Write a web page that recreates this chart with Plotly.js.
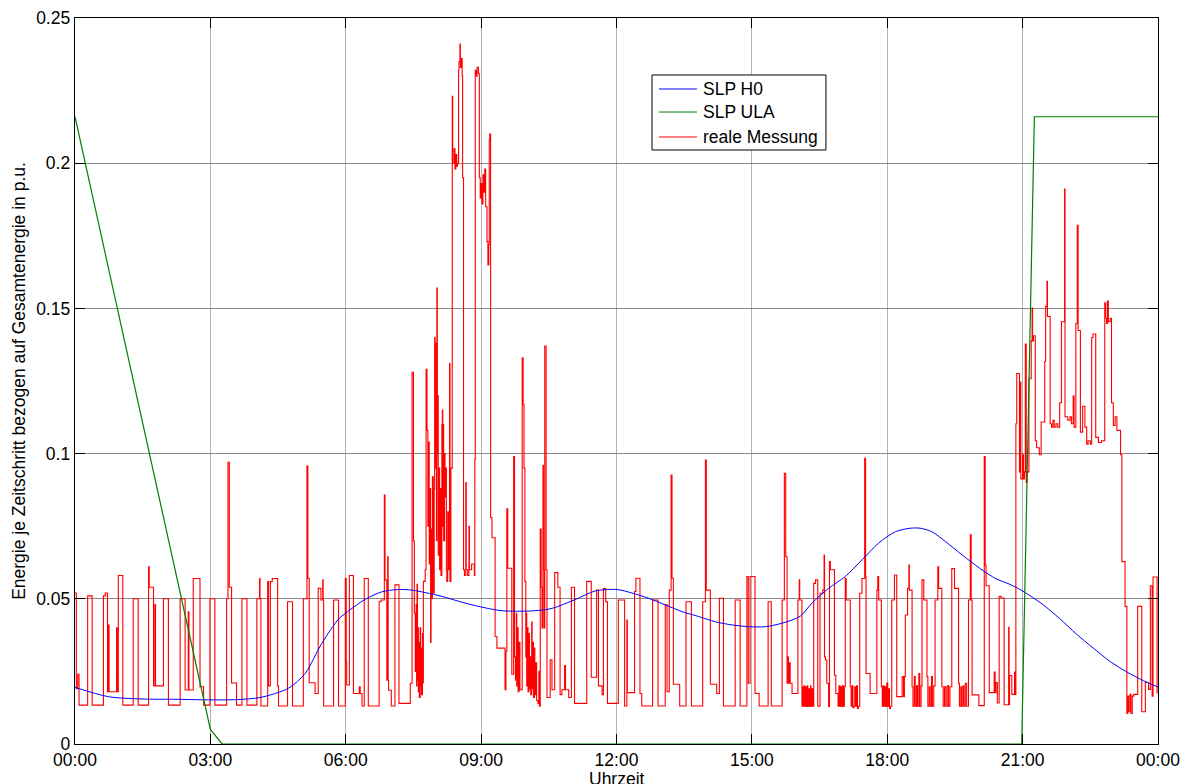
<!DOCTYPE html>
<html><head><meta charset="utf-8">
<script src="https://cdn.plot.ly/plotly-3.0.1.min.js"></script>
<style>html,body{margin:0;padding:0;background:#fff}</style>
</head><body>
<div id="chart" style="width:1186px;height:784px"></div>
<script>
// ---- tick labels / categories ----
const tickHours = [0, 3, 6, 9, 12, 15, 18, 21, 24];
const tickLabels = ['00:00', '03:00', '06:00', '09:00', '12:00', '15:00', '18:00', '21:00', '00:00'];
const yTickVals = [0, 0.05, 0.1, 0.15, 0.2, 0.25];
const yTickLabels = ['0', '0.05', '0.1', '0.15', '0.2', '0.25'];
const seriesNames = ['SLP H0', 'SLP ULA', 'reale Messung'];
const seriesColors = ['#0000ff', '#008000', '#ff0000'];
const xTitle = 'Uhrzeit';
const yTitle = 'Energie je Zeitschritt bezogen auf Gesamtenergie in p.u.';

// ---- SLP H0 (hours, p.u.) ----
const h0Hours = [0, 0.74, 1.48, 2.22, 2.96, 3.6, 4.1, 4.73, 5.1, 5.47, 5.84, 6.0, 6.43, 6.8, 7.17, 7.46, 8.09, 8.72, 9.46, 10.2, 10.57, 11.08, 11.53, 12.01, 12.34, 12.71, 13.08, 13.45, 13.82, 14.19, 14.56, 14.93, 15.3, 15.67, 16.07, 16.33, 16.7, 17.07, 17.44, 17.81, 18.18, 18.51, 18.73, 18.99, 19.29, 19.66, 20.06, 20.41, 20.7, 21.0, 21.45, 21.82, 22.19, 22.56, 22.94, 23.31, 23.68, 24];
const h0Values = [0.0195, 0.0163, 0.0155, 0.0154, 0.0152, 0.0153, 0.016, 0.0192, 0.0243, 0.0347, 0.0430, 0.0451, 0.0498, 0.0524, 0.0532, 0.0530, 0.0510, 0.0482, 0.0459, 0.0459, 0.0467, 0.0497, 0.0527, 0.0532, 0.052, 0.0502, 0.0479, 0.0456, 0.0439, 0.0421, 0.041, 0.0404, 0.0404, 0.0416, 0.0440, 0.0485, 0.0536, 0.0577, 0.0634, 0.0692, 0.0731, 0.0743, 0.0743, 0.0731, 0.0697, 0.0651, 0.0604, 0.0569, 0.0551, 0.0527, 0.048, 0.0432, 0.0379, 0.0331, 0.0284, 0.0248, 0.0218, 0.0196];

// ---- SLP ULA ----
const ulaHours = [0, 3.0, 3.26, 20.98, 21.26, 24];
const ulaValues = [0.216, 0.005, 0, 0, 0.216, 0.216];

// ---- reale Messung: [hour, value] steps ----
const redNight = [[0,0.052],[0.03,0.019],[0.06,0.024],[0.09,0.0134],[0.28,0.051],[0.38,0.0134],[0.63,0.051],[0.67,0.052],[0.72,0.018],[0.74,0.041],[0.755,0.018],[0.92,0.040],[0.935,0.018],[0.96,0.058],[1.06,0.0134],[1.29,0.050],[1.40,0.0134],[1.63,0.061],[1.645,0.054],[1.74,0.020],[1.77,0.048],[1.785,0.020],[1.96,0.050],[2.07,0.0134],[2.33,0.050],[2.44,0.0186],[2.51,0.0455],[2.525,0.0186],[2.62,0.057],[2.77,0.0197],[2.85,0.0134],[2.99,0.050],[3.10,0.0134],[3.36,0.050],[3.39,0.097],[3.42,0.054],[3.47,0.021],[3.58,0.0134],[3.70,0.050],[3.81,0.0134]];
const redMorning = [[4.03,0.050],[4.09,0.057],[4.10,0.050],[4.12,0.0131],[4.27,0.0559],[4.29,0.020],[4.33,0.0559],[4.37,0.057],[4.49,0.020],[4.51,0.0131],[4.71,0.049],[4.82,0.0131],[5.06,0.050],[5.14,0.0957],[5.16,0.057],[5.19,0.0211],[5.32,0.0174],[5.39,0.0536],[5.45,0.0496],[5.49,0.0565],[5.50,0.0496],[5.51,0.0131],[5.73,0.0496],[5.84,0.0131],[5.99,0.057],[6.01,0.0283],[6.02,0.0203],[6.08,0.058],[6.17,0.0174],[6.30,0.0197],[6.32,0.0174],[6.36,0.0131],[6.41,0.057],[6.50,0.0131],[6.74,0.049],[6.78,0.0496],[6.855,0.0857],[6.87,0.0565],[6.91,0.022],[6.93,0.0645],[6.94,0.022],[6.95,0.0185],[7.01,0.0131],[7.09,0.0548],[7.18,0.014]];
const redRamp = [[7.43,0.0209],[7.47,0.128],[7.50,0.070],[7.52,0.045],[7.54,0.025],[7.56,0.048],[7.57,0.020],[7.58,0.055],[7.59,0.022],[7.60,0.040],[7.61,0.018],[7.62,0.035],[7.63,0.016],[7.65,0.040],[7.66,0.020],[7.67,0.033],[7.68,0.017],[7.70,0.038],[7.71,0.021],[7.72,0.056],[7.76,0.060],[7.78,0.129],[7.80,0.108],[7.82,0.075],[7.83,0.104],[7.85,0.062],[7.86,0.088],[7.88,0.035],[7.89,0.074],[7.91,0.050],[7.92,0.092],[7.94,0.052],[7.96,0.088],[7.97,0.140],[7.98,0.095],[8.00,0.138],[8.01,0.070],[8.02,0.157],[8.03,0.100],[8.04,0.120],[8.05,0.065],[8.07,0.095],[8.08,0.060],[8.10,0.088],[8.11,0.058],[8.13,0.110],[8.14,0.115],[8.15,0.075],[8.16,0.110],[8.17,0.070],[8.19,0.100],[8.20,0.085],[8.22,0.095],[8.23,0.060],[8.24,0.056],[8.26,0.080],[8.28,0.060],[8.30,0.131],[8.31,0.056],[8.33,0.095]];
const redPeak = [[8.36,0.223],[8.37,0.200],[8.40,0.205],[8.42,0.198],[8.44,0.203],[8.46,0.199],[8.48,0.200],[8.50,0.232],[8.51,0.235],[8.53,0.241],[8.54,0.233],[8.56,0.236],[8.58,0.230],[8.59,0.195],[8.61,0.060],[8.63,0.058],[8.66,0.090],[8.67,0.060],[8.70,0.058],[8.73,0.075],[8.74,0.060],[8.79,0.062],[8.85,0.058],[8.86,0.098],[8.87,0.232],[8.89,0.230],[8.91,0.233],[8.94,0.231],[8.96,0.195],[8.98,0.188],[9.00,0.193],[9.02,0.186],[9.04,0.196],[9.06,0.190],[9.08,0.198],[9.10,0.185],[9.13,0.173],[9.15,0.165],[9.17,0.172],[9.18,0.208],[9.19,0.210],[9.21,0.078]];
const redLateMorning = [[9.24,0.071],[9.31,0.037],[9.35,0.033],[9.53,0.0187],[9.55,0.032],[9.57,0.081],[9.59,0.0605],[9.66,0.0605],[9.68,0.024],[9.72,0.099],[9.74,0.030],[9.76,0.022],[9.78,0.045],[9.79,0.020],[9.81,0.040],[9.82,0.018],[9.84,0.035],[9.86,0.0187],[9.91,0.133],[9.93,0.117],[9.95,0.095],[9.97,0.056],[9.99,0.030],[10.00,0.045],[10.01,0.020],[10.03,0.040],[10.04,0.018],[10.06,0.038],[10.07,0.019],[10.09,0.030],[10.10,0.017],[10.12,0.042],[10.13,0.019],[10.15,0.035],[10.16,0.016],[10.18,0.033],[10.19,0.017],[10.21,0.028],[10.23,0.015],[10.26,0.014],[10.28,0.025],[10.29,0.013],[10.31,0.074],[10.33,0.054],[10.35,0.040],[10.37,0.096],[10.38,0.060],[10.40,0.040],[10.41,0.137],[10.44,0.060],[10.46,0.016],[10.53,0.029],[10.57,0.0187],[10.63,0.059],[10.70,0.054],[10.75,0.017],[10.79,0.0187],[10.85,0.027],[10.87,0.0187],[10.94,0.016],[11.00,0.054],[11.07,0.014],[11.34,0.056],[11.44,0.023],[11.56,0.053],[11.60,0.020],[11.68,0.017],[11.71,0.0535],[11.76,0.049],[11.80,0.014]];
const redAfternoon = [[12.04,0.0496],[12.18,0.0131],[12.23,0.0427],[12.24,0.0177],[12.40,0.0525],[12.43,0.0571],[12.52,0.0174],[12.56,0.0131],[12.80,0.0496],[12.92,0.0131],[13.08,0.0479],[13.12,0.018],[13.17,0.053],[13.21,0.0926],[13.23,0.0571],[13.26,0.0206],[13.40,0.0131],[13.54,0.049],[13.66,0.0131],[13.91,0.049],[13.97,0.0978],[13.99,0.053],[14.08,0.0206],[14.22,0.0174],[14.28,0.0502],[14.37,0.0131],[14.63,0.0496],[14.74,0.0131],[14.89,0.0577],[14.92,0.0209],[14.96,0.0577],[15.07,0.0174],[15.16,0.0131],[15.36,0.049],[15.43,0.0131],[15.67,0.0496],[15.72,0.0932],[15.75,0.0645],[15.78,0.0209],[15.80,0.030],[15.81,0.0209],[15.83,0.028],[15.85,0.0209],[15.89,0.0174]];
const redEvening = [[16.02,0.0496],[16.05,0.0565],[16.06,0.0496],[16.11,0.013],[16.13,0.0197],[16.14,0.013],[16.16,0.020],[16.17,0.013],[16.19,0.0197],[16.21,0.0129],[16.23,0.020],[16.24,0.013],[16.26,0.019],[16.28,0.0129],[16.30,0.020],[16.31,0.013],[16.33,0.019],[16.35,0.013],[16.37,0.0553],[16.41,0.0565],[16.46,0.013],[16.51,0.0519],[16.57,0.053],[16.60,0.0651],[16.61,0.030],[16.63,0.0289],[16.66,0.0209],[16.70,0.0129],[16.72,0.0628],[16.74,0.060],[16.83,0.0237],[16.86,0.0174],[16.91,0.013],[16.93,0.020],[16.95,0.013],[16.97,0.0197],[16.99,0.0129],[17.01,0.020],[17.03,0.013],[17.05,0.0197],[17.07,0.0571],[17.09,0.0496],[17.18,0.0197],[17.20,0.013],[17.22,0.020],[17.24,0.0125],[17.26,0.013],[17.28,0.0197],[17.30,0.013],[17.32,0.020],[17.34,0.0122],[17.36,0.013],[17.39,0.0519],[17.44,0.057],[17.50,0.0984],[17.52,0.0577],[17.53,0.0243],[17.62,0.0174],[17.77,0.053],[17.79,0.0577],[17.81,0.0496],[17.87,0.0197],[17.89,0.013],[17.91,0.020],[17.93,0.013],[17.95,0.0197],[17.97,0.0129],[17.99,0.021],[18.01,0.013],[18.03,0.019],[18.05,0.0122],[18.07,0.013],[18.10,0.0496],[18.16,0.0582],[18.21,0.0163],[18.33,0.0232],[18.36,0.0163],[18.38,0.0232],[18.40,0.0444],[18.45,0.0536],[18.48,0.0616],[18.49,0.053],[18.55,0.0197],[18.57,0.013],[18.60,0.0232],[18.62,0.013],[18.65,0.020],[18.67,0.013],[18.70,0.0243],[18.72,0.0129],[18.75,0.020],[18.77,0.0565],[18.81,0.0496],[18.88,0.0232],[18.90,0.013],[18.93,0.0197],[18.95,0.013],[18.98,0.0232],[19.00,0.013],[19.03,0.020],[19.06,0.0496],[19.12,0.061],[19.14,0.0536],[19.21,0.0197],[19.24,0.013],[19.27,0.0197],[19.30,0.013],[19.33,0.020],[19.36,0.013],[19.39,0.0197],[19.43,0.0604],[19.49,0.0536],[19.58,0.0209],[19.60,0.013],[19.63,0.0197],[19.65,0.013],[19.68,0.020],[19.70,0.013],[19.73,0.0209],[19.76,0.013],[19.80,0.0496],[19.84,0.072],[19.86,0.0496],[19.88,0.0169]];
const redLateEvening = [[20.03,0.0132],[20.15,0.099],[20.17,0.0616],[20.19,0.0545],[20.26,0.0177],[20.37,0.0248],[20.39,0.0177],[20.41,0.0212],[20.44,0.0141],[20.48,0.0509],[20.52,0.0503],[20.59,0.0135],[20.69,0.0402],[20.70,0.0135],[20.71,0.0236],[20.76,0.0171],[20.82,0.0248],[20.83,0.0171],[20.85,0.1103],[20.87,0.1276],[20.93,0.0937],[20.95,0.1246],[20.96,0.0913],[21.00,0.0996],[21.02,0.0913],[21.04,0.0937],[21.06,0.1377],[21.08,0.0901],[21.10,0.0937],[21.14,0.1258],[21.19,0.1388],[21.21,0.1501],[21.22,0.1388],[21.24,0.1406],[21.28,0.1044],[21.31,0.102],[21.37,0.0996],[21.41,0.1109],[21.49,0.1317],[21.51,0.1507],[21.54,0.1593],[21.55,0.1472],[21.61,0.1103],[21.64,0.1091],[21.67,0.1115],[21.70,0.1091],[21.74,0.1103],[21.78,0.1091],[21.82,0.1175],[21.86,0.1454],[21.93,0.1911],[21.94,0.1127],[22.00,0.1115],[22.05,0.1127],[22.08,0.1103],[22.12,0.1198],[22.14,0.1091],[22.18,0.1448],[22.21,0.1786],[22.23,0.1424],[22.28,0.1074],[22.33,0.1163],[22.38,0.1091],[22.42,0.1032],[22.45,0.1044],[22.50,0.1032],[22.53,0.14],[22.56,0.1412],[22.62,0.1056],[22.68,0.1038],[22.75,0.1044],[22.82,0.1519],[22.84,0.1466],[22.86,0.1448],[22.88,0.1525],[22.90,0.1454],[22.94,0.1466],[22.97,0.1175],[23.01,0.1097],[23.05,0.1127],[23.09,0.108],[23.14,0.108],[23.17,0.0996],[23.20,0.0628],[23.27,0.0474],[23.31,0.0105],[23.33,0.0165],[23.35,0.0111],[23.38,0.0171],[23.40,0.0105],[23.43,0.0165],[23.46,0.0171],[23.55,0.0474],[23.64,0.0111],[23.72,0.0212],[23.79,0.0188],[23.83,0.0545],[23.87,0.0165],[23.89,0.0575],[23.98,0.0177],[24.0,0.0177]];

const redAll = [].concat(redNight, redMorning, redRamp, redPeak, redLateMorning, redAfternoon, redEvening, redLateEvening);

const FONT = 'Liberation Sans, Arial, Helvetica, sans-serif';

const traces = [
  { x: redAll.map(p => p[0]), y: redAll.map(p => p[1]), name: seriesNames[2], type: 'scatter', mode: 'lines',
    line: { color: seriesColors[2], width: 1.1, shape: 'hv' } },
  { x: h0Hours, y: h0Values, name: seriesNames[0], type: 'scatter', mode: 'lines',
    line: { color: seriesColors[0], width: 1, shape: 'spline', smoothing: 0.8 } },
  { x: ulaHours, y: ulaValues, name: seriesNames[1], type: 'scatter', mode: 'lines',
    line: { color: seriesColors[1], width: 1.2 } }
];

// ---- legend box drawn in paper coordinates ----
const legBox = { x0: 0.5328, x1: 0.6934, y0: 0.8182, y1: 0.9215 };
const legRowsY = [0.9022, 0.8705, 0.8361];
const legLineX = [0.5392, 0.5743];
const legTextX = 0.578;

const shapes = [{ type: 'rect', xref: 'paper', yref: 'paper', x0: legBox.x0, x1: legBox.x1, y0: legBox.y0, y1: legBox.y1,
  line: { color: '#000', width: 1 }, fillcolor: '#ffffff', layer: 'above' }];
const annotations = [];
seriesNames.forEach((name, i) => {
  shapes.push({ type: 'line', xref: 'paper', yref: 'paper', x0: legLineX[0], x1: legLineX[1], y0: legRowsY[i], y1: legRowsY[i],
    line: { color: seriesColors[i], width: 1 }, layer: 'above' });
  annotations.push({ xref: 'paper', yref: 'paper', x: legTextX, y: legRowsY[i], xanchor: 'left', yanchor: 'middle',
    text: name, showarrow: false, font: { family: FONT, size: 17.5, color: '#000' } });
});
// x-axis title placed like the reference (partly below the figure edge)
annotations.push({ xref: 'paper', yref: 'paper', x: 0.5, y: -0.0331, xanchor: 'center', yanchor: 'top',
  text: xTitle, showarrow: false, borderpad: 0, font: { family: FONT, size: 17.5, color: '#000' } });

const layout = {
  width: 1186, height: 784,
  margin: { l: 75, r: 28, t: 18, b: 40, pad: 0 },
  paper_bgcolor: '#ffffff', plot_bgcolor: '#ffffff',
  font: { family: FONT, size: 17.5, color: '#000' },
  showlegend: false,
  shapes: shapes,
  annotations: annotations,
  xaxis: {
    range: [0, 24], tickmode: 'array', tickvals: tickHours, ticktext: tickLabels,
    showgrid: true, gridcolor: '#b4b4b4', gridwidth: 1,
    zeroline: false, showline: true, linecolor: '#000', linewidth: 1.3,
    mirror: 'allticks', ticks: 'inside', ticklen: 10, tickcolor: '#000', tickwidth: 1,
    tickfont: { family: FONT, size: 17.5, color: '#000' },
    automargin: false
  },
  yaxis: {
    range: [0, 0.25], tickmode: 'array', tickvals: yTickVals, ticktext: yTickLabels,
    showgrid: true, gridcolor: '#8a8a8a', gridwidth: 1,
    zeroline: false, showline: true, linecolor: '#000', linewidth: 1.3,
    mirror: 'allticks', ticks: 'inside', ticklen: 10, tickcolor: '#000', tickwidth: 1,
    tickfont: { family: FONT, size: 17.5, color: '#000' },
    title: { text: yTitle, font: { family: FONT, size: 17.5, color: '#000' }, standoff: 6 },
    automargin: false
  }
};

Plotly.newPlot('chart', traces, layout, { displayModeBar: false, staticPlot: true });
</script>
</body></html>
